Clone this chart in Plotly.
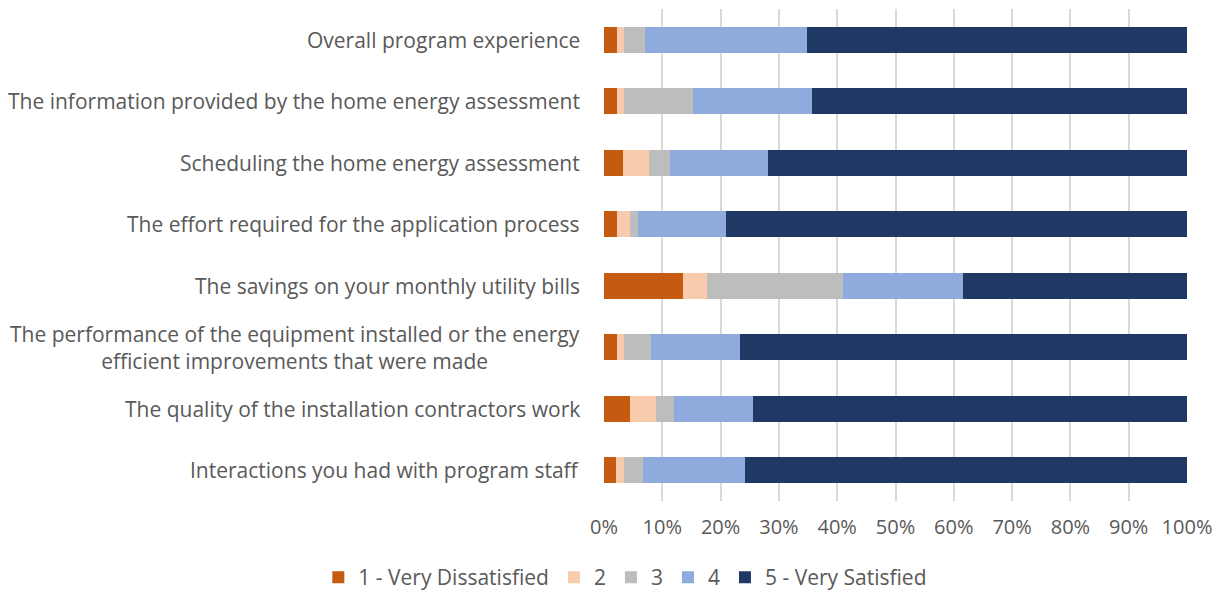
import plotly.graph_objects as go

categories = [
    "Overall program experience",
    "The information provided by the home energy assessment",
    "Scheduling the home energy assessment",
    "The effort required for the application process",
    "The savings on your monthly utility bills",
    "The performance of the equipment installed or the energy<br>efficient improvements that were made",
    "The quality of the installation contractors work",
    "Interactions you had with program staff",
]

very_dissatisfied = [2.3, 2.3, 3.2, 2.3, 13.5, 2.3, 4.5, 2.1]
rating_2 = [1.1, 1.1, 4.6, 2.2, 4.2, 1.1, 4.4, 1.3]
rating_3 = [3.6, 11.9, 3.5, 1.3, 23.3, 4.6, 3.1, 3.3]
rating_4 = [27.8, 20.4, 16.9, 15.1, 20.5, 15.4, 13.6, 17.4]
very_satisfied = [65.2, 64.3, 71.8, 79.1, 38.5, 76.6, 74.4, 75.9]

series = [
    ("1 - Very Dissatisfied", very_dissatisfied, "#C55A11"),
    ("2", rating_2, "#F8CBAD"),
    ("3", rating_3, "#BDBDBD"),
    ("4", rating_4, "#8FAADC"),
    ("5 - Very Satisfied", very_satisfied, "#203864"),
]

FONT = "'Open Sans', sans-serif"
TEXT = "#595959"

fig = go.Figure()
for name, values, color in series:
    fig.add_trace(
        go.Bar(
            y=categories,
            x=[v / 100 for v in values],
            name=name,
            orientation="h",
            marker=dict(color=color, line=dict(width=0)),
        )
    )

# category labels as annotations so the two-line label is centred
for cat in categories:
    fig.add_annotation(
        x=0, xref="paper", y=cat, yref="y",
        text=cat, showarrow=False,
        xanchor="right", align="center", xshift=-22,
        font=dict(family=FONT, size=21, color=TEXT),
    )

fig.update_layout(
    barmode="stack",
    bargap=0.57,
    width=1221,
    height=598,
    margin=dict(l=604, r=34, t=9, b=97),
    plot_bgcolor="white",
    paper_bgcolor="white",
    font=dict(family=FONT, size=20, color=TEXT),
    legend=dict(
        orientation="h",
        x=-0.49, xanchor="left",
        y=-0.024, yref="container", yanchor="bottom",
        font=dict(family=FONT, size=21, color=TEXT),
        traceorder="normal",
        itemwidth=30,
    ),
)
fig.update_xaxes(
    range=[0, 1],
    tickformat=".0%",
    dtick=0.1,
    showgrid=True,
    gridcolor="#D9D9D9",
    gridwidth=2,
    zeroline=False,
    showline=False,
    ticklabelstandoff=12,
    tickfont=dict(family=FONT, size=20, color=TEXT),
)
fig.update_yaxes(
    autorange="reversed",
    showticklabels=False,
    showgrid=False,
    showline=False,
)

fig.write_html(
    "out.html",
    config={"displayModeBar": False},
    post_script="document.body.style.margin='0';",
)
